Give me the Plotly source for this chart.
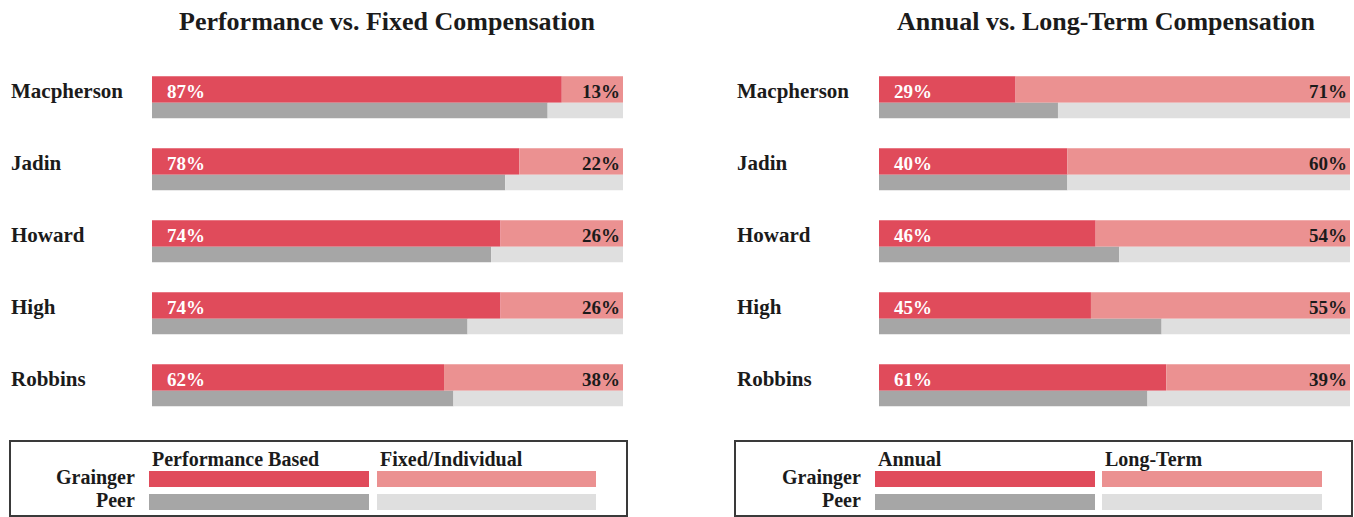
import plotly.graph_objects as go

# ---------------- data ----------------
names = ["Macpherson", "Jadin", "Howard", "High", "Robbins"]
perf_grainger = [87, 78, 74, 74, 62]      # Performance Based (Grainger)
perf_peer = [84, 75, 72, 67, 64]          # Performance Based (Peer)
annual_grainger = [29, 40, 46, 45, 61]    # Annual (Grainger)
annual_peer = [38, 40, 51, 60, 57]        # Annual (Peer)

titles = ["Performance vs. Fixed Compensation", "Annual vs. Long-Term Compensation"]
legend_labels = [["Performance Based", "Fixed/Individual"], ["Annual", "Long-Term"]]
legend_rows = ["Grainger", "Peer"]

# ---------------- style ----------------
W, H = 1354, 517
RED = "#E04B5B"
LRED = "#EB9191"
GRAY = "#A6A6A6"
LGRAY = "#DFDFDF"
TXT = "#1b1b1b"
FONT = "Liberation Serif"


def px(x):
    return x / W


def py(y):
    return 1 - y / H


fig = go.Figure()

panels = [
    dict(g=perf_grainger, p=perf_peer, xa="x", ya="y", xd=[152, 623], name_x=9,
         title_x=387, leg_box=[10, 627], leg_sw=[[149, 369], [377, 596]], leg_lab_x=137),
    dict(g=annual_grainger, p=annual_peer, xa="x2", ya="y2", xd=[879, 1350], name_x=735,
         title_x=1106, leg_box=[735, 1352], leg_sw=[[875, 1095], [1102, 1322]], leg_lab_x=863),
]

rows = list(range(len(names)))
annotations = []
shapes = []

for k, pnl in enumerate(panels):
    g, p = pnl["g"], pnl["p"]
    rest_g = [100 - v for v in g]
    rest_p = [100 - v for v in p]
    common = dict(orientation="h", xaxis=pnl["xa"], yaxis=pnl["ya"], hoverinfo="skip",
                  showlegend=False)
    fig.add_trace(go.Bar(y=rows, x=g, base=[0] * len(g), width=0.37, offset=-0.275,
                         marker=dict(color=RED, line=dict(width=0)), **common))
    fig.add_trace(go.Bar(y=rows, x=rest_g, base=g, width=0.37, offset=-0.275,
                         marker=dict(color=LRED, line=dict(width=0)), **common))
    fig.add_trace(go.Bar(y=rows, x=p, base=[0] * len(p), width=0.215, offset=0.095,
                         marker=dict(color=GRAY, line=dict(width=0)), **common))
    fig.add_trace(go.Bar(y=rows, x=rest_p, base=p, width=0.215, offset=0.095,
                         marker=dict(color=LGRAY, line=dict(width=0)), **common))

    xref = pnl["xa"]
    yref = pnl["ya"]
    for i, nm in enumerate(names):
        annotations.append(dict(text=nm, xref="paper", x=px(pnl["name_x"]), xanchor="left",
                                yref=yref, y=i, yanchor="middle", yshift=5, showarrow=False,
                                font=dict(family=FONT, size=21, color=TXT, weight=700)))
        annotations.append(dict(text=f"{g[i]}%", xref=xref, x=0, xanchor="left", xshift=13,
                                yref=yref, y=i, yanchor="middle", yshift=5, showarrow=False,
                                font=dict(family=FONT, size=19, color="white", weight=700)))
        annotations.append(dict(text=f"{rest_g[i]}%", xref=xref, x=100, xanchor="right", xshift=-1,
                                yref=yref, y=i, yanchor="middle", yshift=5, showarrow=False,
                                font=dict(family=FONT, size=19, color=TXT, weight=700)))

    # title
    annotations.append(dict(text=titles[k], xref="paper", x=px(pnl["title_x"]), xanchor="center",
                            yref="paper", y=py(21), yanchor="middle", showarrow=False,
                            font=dict(family=FONT, size=26, color=TXT, weight=700)))

    # legend box
    bx0, bx1 = pnl["leg_box"]
    shapes.append(dict(type="rect", xref="paper", yref="paper", x0=px(bx0), x1=px(bx1),
                       y0=py(516), y1=py(441), line=dict(color="#3a3a3a", width=2),
                       fillcolor="rgba(0,0,0,0)"))
    sw_colors = [[RED, LRED], [GRAY, LGRAY]]
    sw_y = [[471, 487], [494, 510]]
    for r in range(2):
        for c in range(2):
            x0, x1 = pnl["leg_sw"][c]
            y0, y1 = sw_y[r]
            shapes.append(dict(type="rect", xref="paper", yref="paper", x0=px(x0), x1=px(x1),
                               y0=py(y1), y1=py(y0), line=dict(width=0),
                               fillcolor=sw_colors[r][c]))
        annotations.append(dict(text=legend_rows[r], xref="paper", x=px(pnl["leg_lab_x"]),
                                xanchor="right", yref="paper", y=py((sw_y[r][0] + sw_y[r][1]) / 2 - 2),
                                yanchor="middle", showarrow=False,
                                font=dict(family=FONT, size=20, color=TXT, weight=700)))
    for c in range(2):
        annotations.append(dict(text=legend_labels[k][c], xref="paper", x=px(pnl["leg_sw"][c][0] + 1),
                                xanchor="left", yref="paper", y=py(459), yanchor="middle",
                                showarrow=False,
                                font=dict(family=FONT, size=20, color=TXT, weight=700)))

axis_common = dict(showgrid=False, zeroline=False, showticklabels=False, showline=False,
                   ticks="", fixedrange=True)
ydom = [py(420), py(60)]
fig.update_layout(
    width=W, height=H,
    margin=dict(l=0, r=0, t=0, b=0),
    paper_bgcolor="white", plot_bgcolor="white",
    barmode="overlay",
    showlegend=False,
    xaxis=dict(domain=[px(152), px(623)], range=[0, 100], anchor="y", **axis_common),
    yaxis=dict(domain=ydom, range=[len(names) - 0.5, -0.5], anchor="x", **axis_common),
    xaxis2=dict(domain=[px(879), px(1350)], range=[0, 100], anchor="y2", **axis_common),
    yaxis2=dict(domain=ydom, range=[len(names) - 0.5, -0.5], anchor="x2", **axis_common),
    annotations=annotations,
    shapes=shapes,
)

fig.write_html("out.html", config={"displayModeBar": False},
               post_script="document.body.style.margin='0';document.body.style.overflow='hidden';")
